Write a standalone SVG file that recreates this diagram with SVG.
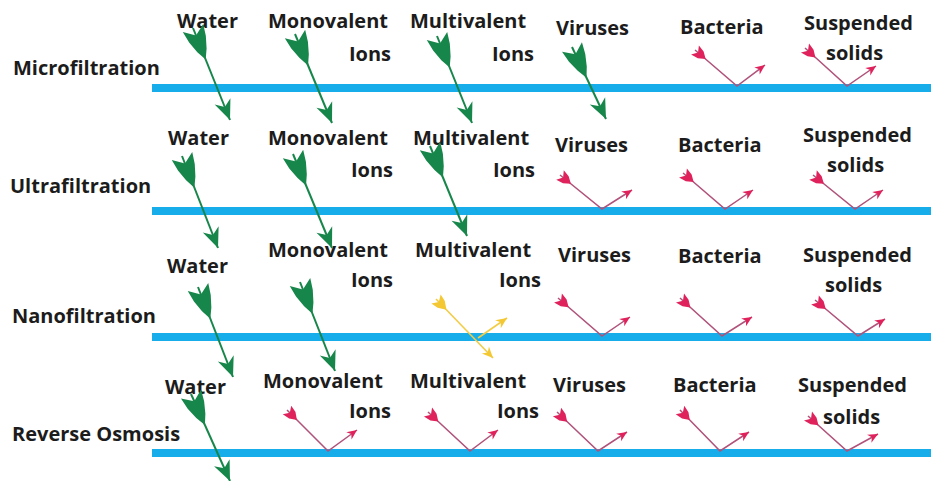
<svg xmlns="http://www.w3.org/2000/svg" width="931" height="481" viewBox="0 0 931 481">
<style>
text{font-family:"Open Sans","Liberation Sans",sans-serif;font-weight:700;font-size:20px;fill:#1c1c1c}
.r{text-anchor:end}
.bar{fill:#17adea}
.g{fill:none;stroke:#17864a;stroke-width:2;marker-start:url(#gf);marker-end:url(#gh)}
.red{fill:none;stroke:#b0527a;stroke-width:1.5;stroke-linejoin:miter;marker-start:url(#rf);marker-end:url(#rh)}
.y{fill:none;stroke:#f2cc45;stroke-width:1.6;marker-end:url(#yh)}
.ys{marker-start:url(#yf)}
</style>
<defs>
<marker id="gf" markerUnits="userSpaceOnUse" orient="auto" overflow="visible" refX="0" refY="0" markerWidth="40" markerHeight="40"><polygon points="0,-11 8,0 0,11 12,9 24,5 34,0 24,-5 12,-9" fill="#17864a"/></marker>
<marker id="gh" markerUnits="userSpaceOnUse" orient="auto" overflow="visible" refX="0" refY="0" markerWidth="40" markerHeight="40"><polygon points="0,0 -20,-8.5 -14,0 -20,8.5" fill="#17864a"/></marker>
<marker id="rf" markerUnits="userSpaceOnUse" orient="auto" overflow="visible" refX="0" refY="0" markerWidth="20" markerHeight="20"><polygon points="0,-6 4,0 0,6 7.5,4.5 14,0 7.5,-4.5" fill="#e0225c"/></marker>
<marker id="rh" markerUnits="userSpaceOnUse" orient="auto" overflow="visible" refX="0" refY="0" markerWidth="20" markerHeight="20"><polygon points="0,0 -10,-4.5 -7,0 -10,4.5" fill="#e0225c"/></marker>
<marker id="yf" markerUnits="userSpaceOnUse" orient="auto" overflow="visible" refX="0" refY="0" markerWidth="20" markerHeight="20"><polygon points="0,-6.5 4,0 0,6.5 7.5,5 15,0 7.5,-5" fill="#f4c832"/></marker>
<marker id="yh" markerUnits="userSpaceOnUse" orient="auto" overflow="visible" refX="0" refY="0" markerWidth="20" markerHeight="20"><polygon points="0,0 -11,-5 -7.5,0 -11,5" fill="#f4c832"/></marker>
</defs>
<rect width="931" height="481" fill="#ffffff"/>

<g id="membranes">
<rect class="bar" x="152" y="84" width="779" height="8"/>
<rect class="bar" x="152" y="207" width="779" height="8"/>
<rect class="bar" x="152" y="333" width="779" height="8"/>
<rect class="bar" x="152" y="449" width="779" height="8"/>
</g>

<g id="row-microfiltration">
<text x="13" y="75">Microfiltration</text>
<text x="177" y="28">Water</text>
<text x="268" y="28">Monovalent</text>
<text class="r" x="391" y="61">Ions</text>
<text x="410" y="28">Multivalent</text>
<text class="r" x="534" y="61">Ions</text>
<text x="556" y="35">Viruses</text>
<text x="680" y="34">Bacteria</text>
<text x="804" y="30">Suspended</text>
<text x="826" y="60">solids</text>
</g>
<g id="row-ultrafiltration">
<text x="10" y="193">Ultrafiltration</text>
<text x="168" y="145">Water</text>
<text x="268" y="145">Monovalent</text>
<text class="r" x="393" y="177">Ions</text>
<text x="413" y="145">Multivalent</text>
<text class="r" x="535" y="177">Ions</text>
<text x="555" y="152">Viruses</text>
<text x="678" y="152">Bacteria</text>
<text x="803" y="142">Suspended</text>
<text x="827" y="172">solids</text>
</g>
<g id="row-nanofiltration">
<text x="12" y="323">Nanofiltration</text>
<text x="167" y="273">Water</text>
<text x="268" y="257">Monovalent</text>
<text class="r" x="393" y="287">Ions</text>
<text x="415" y="257">Multivalent</text>
<text class="r" x="541" y="287">Ions</text>
<text x="558" y="262">Viruses</text>
<text x="678" y="263">Bacteria</text>
<text x="803" y="262">Suspended</text>
<text x="825" y="292">solids</text>
</g>
<g id="row-reverse-osmosis">
<text x="12" y="441">Reverse Osmosis</text>
<text x="165" y="394">Water</text>
<text x="263" y="388">Monovalent</text>
<text class="r" x="391" y="418">Ions</text>
<text x="410" y="388">Multivalent</text>
<text class="r" x="539" y="418">Ions</text>
<text x="553" y="392">Viruses</text>
<text x="673" y="392">Bacteria</text>
<text x="798" y="392">Suspended</text>
<text x="823" y="424">solids</text>
</g>

<g id="connectors">
<path class="g" d="M193,28 L230,120"/>
<path class="g" d="M295,34 L332,123"/>
<path class="g" d="M437,36 L472,123"/>
<path class="g" d="M572,47 L606,119"/>
<path class="red" d="M695,50 L737,86 L765,65"/>
<path class="red" d="M805,48 L847,86 L876,66"/>

<path class="g" d="M182,156 L218,248"/>
<path class="g" d="M293,154 L332,248"/>
<path class="g" d="M430,146 L467,236"/>
<path class="red" d="M560,175 L602,209 L632,190"/>
<path class="red" d="M683,173 L725,209 L753,190"/>
<path class="red" d="M813,175 L855,209 L883,190"/>

<path class="g" d="M198,287 L233,377"/>
<path class="g" d="M300,282 L335,371"/>
<path class="y ys" d="M436,299 L493,358"/>
<path class="y" d="M478,338 L507,318"/>
<path class="red" d="M558,298 L602,336 L630,317"/>
<path class="red" d="M680,298 L722,336 L752,317"/>
<path class="red" d="M815,300 L858,336 L885,319"/>

<path class="g" d="M191,394 L230,481"/>
<path class="red" d="M287,410 L328,451 L357,430"/>
<path class="red" d="M428,412 L470,451 L498,430"/>
<path class="red" d="M557,412 L598,451 L627,432"/>
<path class="red" d="M680,410 L720,451 L749,432"/>
<path class="red" d="M808,416 L847,451 L878,434"/>
</g>
</svg>
